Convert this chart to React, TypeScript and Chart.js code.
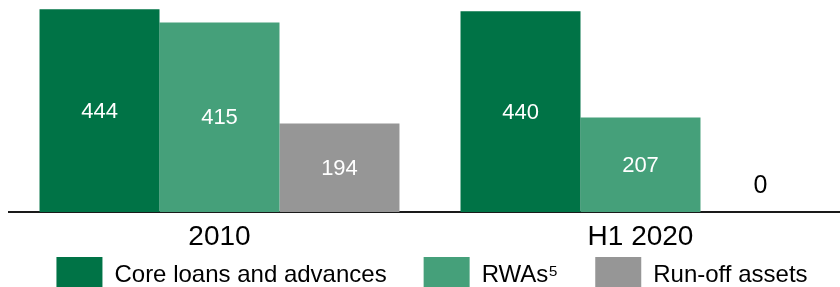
import React, { useEffect, useRef } from "react";
import { Chart, registerables } from "chart.js";

Chart.register(...registerables);

const categories = ["2010", "H1 2020"];
const seriesNames = ["Core loans and advances", "RWAs\u2075", "Run-off assets"];
const coreLoans = [444, 440];
const rwas = [415, 207];
const runOff = [194, 0];
const seriesColors = ["#007346", "#45A07A", "#969696"];

const FONT = "'Liberation Sans', Arial, sans-serif";

const valueLabels = {
  id: "valueLabels",
  afterDatasetsDraw(chart: any) {
    const ctx = chart.ctx;
    ctx.save();
    ctx.textAlign = "center";
    ctx.textBaseline = "middle";
    chart.data.datasets.forEach((ds: any, di: number) => {
      const meta = chart.getDatasetMeta(di);
      meta.data.forEach((bar: any, i: number) => {
        const v = ds.data[i];
        const p = bar.getProps(["x", "y", "base"], true);
        if (v > 0) {
          ctx.fillStyle = "#ffffff";
          ctx.font = `22px ${FONT}`;
          ctx.fillText(String(v), p.x, (p.y + p.base) / 2 + 1);
        } else {
          ctx.fillStyle = "#000000";
          ctx.font = `25px ${FONT}`;
          ctx.fillText(String(v), p.x, p.base - 26);
        }
      });
    });
    ctx.restore();
  },
};

const layoutTweaks = {
  id: "layoutTweaks",
  afterLayout(chart: any) {
    const l = chart.legend;
    if (l) {
      l.left += 2;
      l.right += 2;
    }
    const x = chart.scales.x;
    if (x) {
      x.bottom = x.top + 50;
    }
  },
};

export default function App() {
  const ref = useRef<HTMLCanvasElement>(null);
  useEffect(() => {
    document.body.style.margin = "0";
    document.body.style.overflow = "hidden";
    document.documentElement.style.overflow = "hidden";
    const chart = new Chart(ref.current!, {
      type: "bar",
      data: {
        labels: categories,
        datasets: [coreLoans, rwas, runOff].map((d, i) => ({
          label: seriesNames[i],
          data: d,
          backgroundColor: seriesColors[i],
          borderWidth: 0,
          categoryPercentage: 0.855,
          barPercentage: 1,
        })),
      },
      options: {
        responsive: false,
        animation: false,
        devicePixelRatio: 1,
        layout: { padding: { left: 9, right: 0, top: 0, bottom: 0 } },
        plugins: {
          tooltip: { enabled: false },
          legend: {
            position: "bottom",
            labels: {
              boxWidth: 46,
              boxHeight: 36,
              padding: 37,
              color: "#000000",
              font: { family: FONT, size: 24 },
            },
          },
        },
        scales: {
          x: {
            grid: { display: false, drawTicks: false },
            border: { display: true, color: "#1a1a1a", width: 2 },
            ticks: { color: "#000000", font: { family: FONT, size: 28 }, padding: 8 },
            afterFit: (scale: any) => {
              scale.height = 8;
            },
          },
          y: { display: false, min: 0, max: 464.4 },
        },
      },
      plugins: [valueLabels, layoutTweaks],
    });
    return () => chart.destroy();
  }, []);
  return (
    <div style={{ width: 840, height: 287, overflow: "hidden" }}>
      <canvas ref={ref} width={851} height={303} style={{ display: "block" }} />
    </div>
  );
}
